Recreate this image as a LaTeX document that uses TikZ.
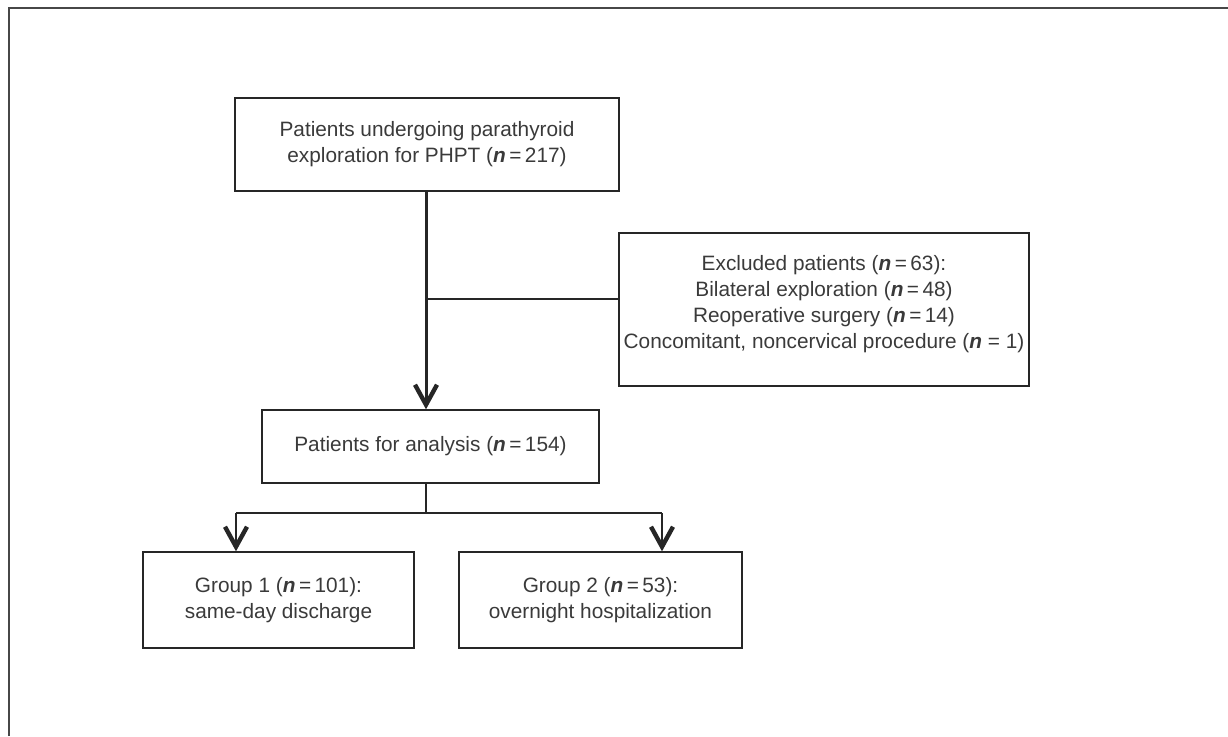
\documentclass[tikz,border=0pt]{standalone}
\usepackage{fontspec}
\setmainfont{Liberation Sans}
\usetikzlibrary{arrows.meta}
\definecolor{txt}{HTML}{3A3A3A}
\definecolor{ln}{HTML}{262626}
\newcommand{\nn}{{\bfseries\itshape n}}
\tikzset{
  box/.style={draw=ln, line width=1.4pt, fill=none, inner sep=0pt, align=center,
    text=txt, font=\fontsize{20.8}{26}\selectfont},
  lbl/.style={inner sep=0pt, align=center, text=txt, font=\fontsize{20.8}{26}\selectfont},
  conn/.style={draw=ln, line width=1.4pt},
  thick conn/.style={draw=ln, line width=3pt},
  chev/.style={-{Straight Barb[length=20pt,width=22pt,line width=4.4pt]}},
  frame/.style={draw=ln!85, line width=1.6pt}
}
\begin{document}
\begin{tikzpicture}[x=1pt,y=-1pt]
\useasboundingbox (0,0) rectangle (1228,736);
\draw[frame] (9,736) -- (9,8) -- (1228,8);

\node[box, minimum width=384pt, minimum height=93pt] (top) at (427,144.5)
  {Patients undergoing parathyroid\\exploration for PHPT (\nn\,=\,217)};
\node[box, minimum width=410pt, minimum height=153pt] (excl) at (824,309.5) {};
\node[lbl] (excltext) at (824,304)
  {Excluded patients (\nn\,=\,63):\\Bilateral exploration (\nn\,=\,48)\\Reoperative surgery (\nn\,=\,14)\\Concomitant, noncervical procedure (\nn{} = 1)};
\node[box, minimum width=337pt, minimum height=73pt] (ana) at (430.5,446.5)
  {Patients for analysis (\nn\,=\,154)};
\node[box, minimum width=271pt, minimum height=96pt] (g1) at (278.5,600)
  {Group 1 (\nn\,=\,101):\\same-day discharge\vphantom{p}};
\node[box, minimum width=283pt, minimum height=96pt] (g2) at (600.5,600)
  {Group 2 (\nn\,=\,53):\\overnight hospitalization};

\coordinate (s) at (426,0);
\coordinate (hy) at (0,299);
\coordinate (j) at (426,513);
\coordinate (gl) at (236,513);
\coordinate (gr) at (662,513);

\draw[thick conn, chev] (top.south -| s) -- (ana.north -| s);
\draw[conn] (s |- hy) -- (excl.west |- hy);
\draw[conn] (ana.south -| j) -- (j);
\draw[conn] (gl) -- (gr);
\draw[conn, chev] (gl) -- (gl |- g1.north);
\draw[conn, chev] (gr) -- (gr |- g2.north);
\end{tikzpicture}
\end{document}
